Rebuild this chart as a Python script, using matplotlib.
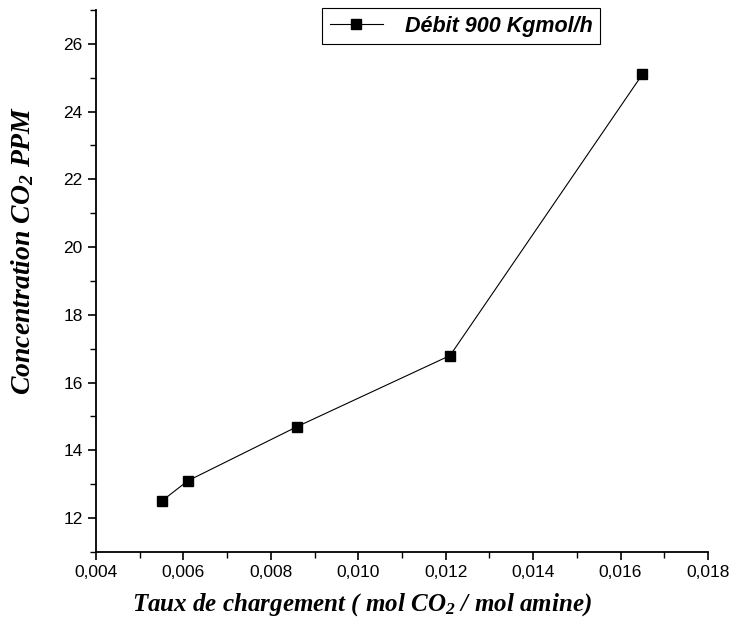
import matplotlib.pyplot as plt
from matplotlib.ticker import MultipleLocator, FuncFormatter

# data
taux = [0.0055, 0.0061, 0.0086, 0.0121, 0.0165]
conc_co2 = [12.5, 13.1, 14.7, 16.8, 25.1]
serie_label = "Débit 900 Kgmol/h"

plt.rcParams['mathtext.fontset'] = 'custom'
plt.rcParams['mathtext.rm'] = 'Liberation Serif:bold:italic'
plt.rcParams['mathtext.it'] = 'Liberation Serif:bold:italic'
plt.rcParams['mathtext.bf'] = 'Liberation Serif:bold:italic'

fig = plt.figure(figsize=(7.31, 6.32), dpi=100)
ax = fig.add_axes([0.1313, 0.1266, 0.8372, 0.8576])

ax.plot(taux, conc_co2, color="black", linewidth=0.8, marker="s",
        markersize=7, label=serie_label)

ax.set_xlim(0.004, 0.018)
ax.set_ylim(11, 27)
ax.xaxis.set_major_locator(MultipleLocator(0.002))
ax.xaxis.set_minor_locator(MultipleLocator(0.001))
ax.yaxis.set_major_locator(MultipleLocator(2))
ax.yaxis.set_minor_locator(MultipleLocator(1))
ax.xaxis.set_major_formatter(FuncFormatter(lambda v, p: f"{v:.3f}".replace(".", ",")))

for s in ["top", "right"]:
    ax.spines[s].set_visible(False)
ax.spines["left"].set_linewidth(1.3)
ax.spines["bottom"].set_linewidth(1.3)
ax.tick_params(which="major", direction="out", length=6, width=1.2,
               labelsize=12.5)
ax.tick_params(which="minor", direction="out", length=4, width=1.0)
for lab in ax.get_xticklabels() + ax.get_yticklabels():
    lab.set_fontfamily("Liberation Sans")

ax.set_xlabel("Taux de chargement ( mol CO$_2$ / mol amine)",
              family="Liberation Serif", weight="bold", style="italic",
              fontsize=18)
ax.xaxis.set_label_coords(0.435, -0.072)
ax.set_ylabel("Concentration CO$_2$ PPM",
              family="Liberation Serif", weight="bold", style="italic",
              fontsize=20)
ax.yaxis.set_label_coords(-0.098, 0.557)

leg = ax.legend(loc="upper left", bbox_to_anchor=(322 / 731, 1 - 8 / 632),
                bbox_transform=fig.transFigure, borderaxespad=0,
                prop={"family": "Liberation Sans", "weight": "bold",
                      "style": "italic", "size": 15.5},
                fancybox=False, edgecolor="black", framealpha=1,
                handlelength=2.5, handletextpad=1.0, borderpad=0.35)
leg.get_frame().set_linewidth(0.8)

fig.savefig("out.png", dpi=100)
